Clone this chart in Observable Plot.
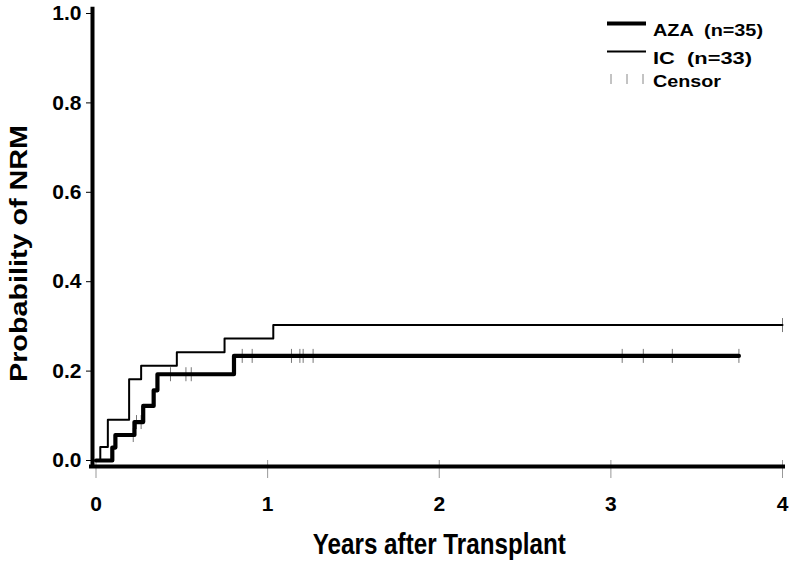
<!DOCTYPE html>
<html><head><meta charset="utf-8">
<script src="https://cdn.jsdelivr.net/npm/d3@7"></script>
<script src="https://cdn.jsdelivr.net/npm/@observablehq/plot@0.6"></script>
<style>
body{margin:0;background:#fff;}
#chart{position:relative;width:795px;height:571px;}
#legend{position:absolute;left:0;top:0;}
</style></head><body><div id="chart"></div>
<script>
// ---- data ----
const xTicks = [0, 1, 2, 3, 4];
const yTicks = [0, 0.2, 0.4, 0.6, 0.8, 1.0];
const xTitle = "Years after Transplant";
const yTitle = "Probability of NRM";
const legendLabels = ["AZA  (n=35)", "IC  (n=33)", "Censor"];

// IC group: step times (years) and cumulative probability of NRM
const icTime = [0, 0.025, 0.069, 0.193, 0.263, 0.471, 0.749, 1.033, 4.0];
const icProb = [0, 0.0303, 0.0909, 0.1818, 0.2121, 0.2424, 0.2727, 0.3030, 0.3030];
const icCensorTime = [4.0];
const icCensorProb = [0.3030];

// AZA group
const azaTime = [0, 0.095, 0.113, 0.224, 0.275, 0.336, 0.358, 0.804, 3.746];
const azaProb = [0, 0.029, 0.057, 0.086, 0.122, 0.157, 0.193, 0.234, 0.234];
const azaCensorTime = [0.217, 0.236, 0.263, 0.434, 0.524, 0.555, 0.852, 0.910, 1.139, 1.188, 1.207, 1.265, 3.066, 3.189, 3.358, 3.746];
const azaCensorProb = [0.057, 0.086, 0.086, 0.193, 0.193, 0.193, 0.234, 0.234, 0.234, 0.234, 0.234, 0.234, 0.234, 0.234, 0.234, 0.234];

// ---- build tables ----
const aza = azaTime.map((t, i) => ({t, p: azaProb[i]}));
const ic = icTime.map((t, i) => ({t, p: icProb[i]}));
const censors = [
  ...azaCensorTime.map((t, i) => ({t, p: azaCensorProb[i]})),
  ...icCensorTime.map((t, i) => ({t, p: icCensorProb[i]}))
];

const FONT = '"Liberation Sans", Arial, Helvetica, sans-serif';
const vline = {draw(ctx, size) { const h = Math.sqrt(size / Math.PI); ctx.moveTo(0, -h); ctx.lineTo(0, h); }};

const plot = Plot.plot({
  width: 795, height: 571,
  marginLeft: 95.5, marginRight: 13, marginTop: 13, marginBottom: 111,
  style: {fontFamily: FONT, fontWeight: "bold", fontSize: "21px", background: "white", color: "black"},
  x: {domain: [0, 4]},
  y: {domain: [0, 1]},
  marks: [
    Plot.axisX({ticks: xTicks, tickSize: 18, tickPadding: 18, stroke: "#999", fill: "black", fontSize: 21, label: null, tickFormat: d => String(d)}),
    Plot.axisY({ticks: yTicks, tickSize: 6, tickPadding: 5, dx: -3.5, fontSize: 21, tickFormat: d3.format(".1f"), label: null}),
    Plot.dot(censors, {x: "t", y: "p", symbol: vline, r: 7, stroke: "#777", strokeWidth: 1}),
    Plot.line(ic, {x: "t", y: "p", curve: "step-after", stroke: "black", strokeWidth: 2}),
    Plot.line(aza, {x: "t", y: "p", curve: "step-after", stroke: "black", strokeWidth: 4.2}),
    Plot.ruleX([0], {dx: -3.5, insetTop: -6.3, insetBottom: -8, stroke: "black", strokeWidth: 4}),
    Plot.ruleY([0], {dy: 6, insetLeft: -6.5, insetRight: -3, stroke: "black", strokeWidth: 4}),
    Plot.text([xTitle], {frameAnchor: "bottom", lineAnchor: "middle", textAnchor: "middle", dy: 84, text: d => d, fontSize: 30}),
    Plot.text([yTitle], {frameAnchor: "left", lineAnchor: "middle", textAnchor: "middle", rotate: -90, dx: -76.5, dy: 16.5, text: d => d, fontSize: 24})
  ]
});
const chart = document.getElementById("chart");
chart.appendChild(plot);

// fit the axis titles to the reference's (condensed / expanded) lettering
d3.select(plot).selectAll('g[aria-label="text"] text').each(function () {
  const t = this.textContent;
  if (t === xTitle) { this.setAttribute("textLength", 253); this.setAttribute("lengthAdjust", "spacingAndGlyphs"); }
  if (t === yTitle) { this.setAttribute("textLength", 257); this.setAttribute("lengthAdjust", "spacingAndGlyphs"); }
});

// ---- legend overlay ----
const leg = d3.select(chart).append("svg").attr("id", "legend")
  .attr("width", 795).attr("height", 100)
  .style("font-family", FONT).style("font-weight", "bold").style("font-size", "16.5px");
const rows = [
  {label: legendLabels[0], kind: "thick", lineY: 23.5, base: 35.7, len: 110},
  {label: legendLabels[1], kind: "thin", lineY: 51.4, base: 64, len: 99},
  {label: legendLabels[2], kind: "censor", lineY: 79, base: 87.3, len: 68}
];
rows.forEach(r => {
  if (r.kind === "censor") {
    [611, 627, 643].forEach(x => leg.append("line").attr("x1", x).attr("x2", x)
      .attr("y1", r.lineY - 5).attr("y2", r.lineY + 5).attr("stroke", "#888").attr("stroke-width", 1));
  } else {
    leg.append("line").attr("x1", 607).attr("x2", 646).attr("y1", r.lineY).attr("y2", r.lineY)
      .attr("stroke", "black").attr("stroke-width", r.kind === "thick" ? 4 : 2);
  }
  leg.append("text").attr("x", 653).attr("y", r.base).style("white-space", "pre")
    .attr("textLength", r.len).attr("lengthAdjust", "spacingAndGlyphs").text(r.label);
});
</script></body></html>
